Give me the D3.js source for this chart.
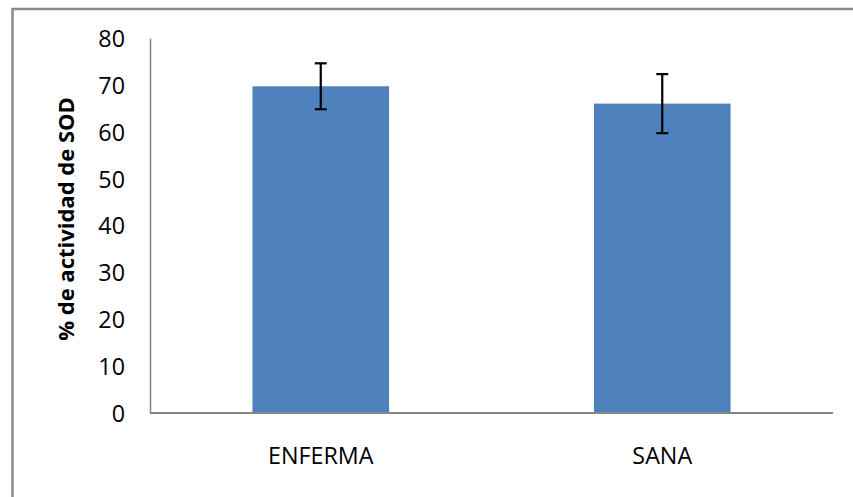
<!DOCTYPE html>
<html>
<head>
<meta charset="utf-8">
<script src="https://cdn.jsdelivr.net/npm/d3@7"></script>
<style>
  html, body { margin: 0; padding: 0; background: #fff; }
  svg { display: block; }
</style>
</head>
<body>
<svg id="chart" width="853" height="497"></svg>
<script>
// SOD activity per group, with error bar half-widths
const categories = ["ENFERMA", "SANA"];
const values = [69.7, 66.0];
const errors = [4.9, 6.3];
const yTicks = [0, 10, 20, 30, 40, 50, 60, 70, 80];
const yTitle = "% de actividad de SOD";

const svg = d3.select("#chart");
const W = 853, H = 497;
const plot = { left: 150, right: 833, top: 38, bottom: 413 };
const font = "'Open Sans', sans-serif";

// outer frame (runs off the right and bottom edges)
svg.append("rect")
  .attr("x", 12.5).attr("y", 9)
  .attr("width", W).attr("height", H)
  .attr("fill", "none")
  .attr("stroke", "#8a8a8a")
  .attr("stroke-width", 2.5);

const x = d3.scaleBand()
  .domain(categories)
  .range([plot.left, plot.right])
  .paddingInner(0)
  .paddingOuter(0);

const y = d3.scaleLinear()
  .domain([0, 80])
  .range([plot.bottom, plot.top]);

const barW = x.bandwidth() * 0.4;

// bars
svg.append("g").selectAll("rect")
  .data(categories)
  .join("rect")
  .attr("x", (d) => x(d) + (x.bandwidth() - barW) / 2)
  .attr("y", (d, i) => y(values[i]))
  .attr("width", barW)
  .attr("height", (d, i) => y(0) - y(values[i]))
  .attr("fill", "#4f81bd");

// error bars
const eb = svg.append("g")
  .attr("stroke", "#000")
  .attr("stroke-width", 2.2)
  .attr("fill", "none");
categories.forEach((c, i) => {
  const cx = x(c) + x.bandwidth() / 2;
  const hi = y(values[i] + errors[i]);
  const lo = y(values[i] - errors[i]);
  eb.append("line").attr("x1", cx).attr("x2", cx).attr("y1", hi).attr("y2", lo);
  eb.append("line").attr("x1", cx - 6).attr("x2", cx + 6).attr("y1", hi).attr("y2", hi);
  eb.append("line").attr("x1", cx - 6).attr("x2", cx + 6).attr("y1", lo).attr("y2", lo);
});

// y axis
const yAxis = svg.append("g")
  .attr("transform", `translate(${plot.left},0)`)
  .call(d3.axisLeft(y).tickValues(yTicks).tickSize(0).tickPadding(25));
yAxis.select(".domain").attr("stroke", "#868686").attr("stroke-width", 1.5);
yAxis.selectAll("text")
  .attr("font-family", font)
  .attr("font-size", 23.3)
  .attr("fill", "#000")
  .attr("dy", "0.36em");

// x axis
const xAxis = svg.append("g")
  .attr("transform", `translate(0,${plot.bottom})`)
  .call(d3.axisBottom(x).tickSize(0).tickPadding(0));
xAxis.select(".domain").attr("stroke", "#868686").attr("stroke-width", 2).attr("d", `M${plot.left},0H${plot.right}`);
xAxis.selectAll("text")
  .attr("font-family", font)
  .attr("font-size", 23.3)
  .attr("fill", "#000")
  .attr("dy", null)
  .attr("y", 51);

// y axis title
svg.append("text")
  .attr("transform", `translate(74,${(100 + 338) / 2}) rotate(-90)`)
  .attr("text-anchor", "middle")
  .attr("font-family", font)
  .attr("font-weight", "bold")
  .attr("font-size", 22)
  .attr("fill", "#000")
  .text(yTitle);
</script>
</body>
</html>
